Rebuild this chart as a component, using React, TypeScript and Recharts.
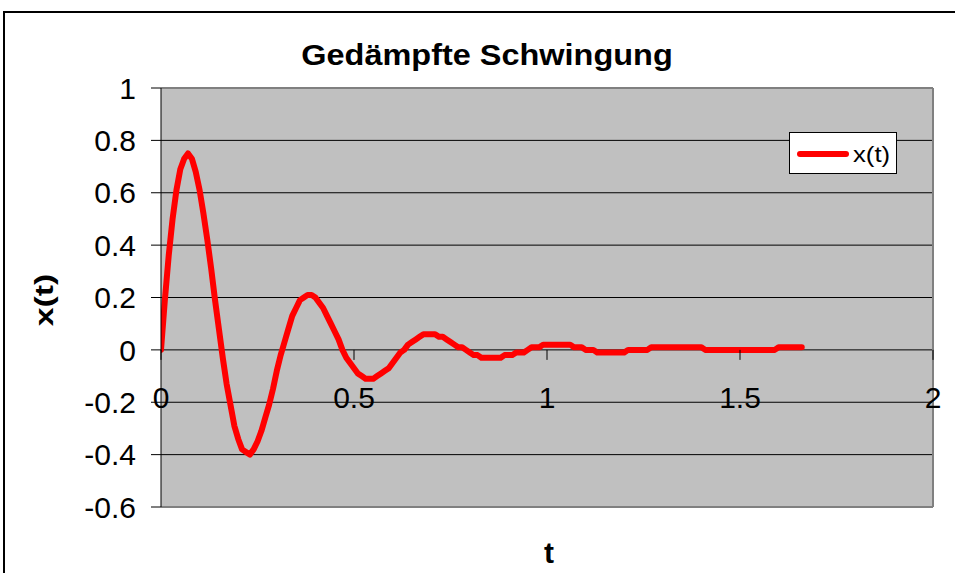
import React from 'react';
import {
  LineChart,
  Line,
  XAxis,
  YAxis,
  CartesianGrid,
  ReferenceLine,
  ReferenceDot,
  Legend,
} from 'recharts';

const chartTitle = 'Gedämpfte Schwingung';
const xAxisTitle = 't';
const yAxisTitle = 'x(t)';
const seriesName = 'x(t)';

const tValues = [
  0, 0.01, 0.02, 0.03, 0.04, 0.05, 0.06, 0.07, 0.08, 0.09,
  0.1, 0.11, 0.12, 0.13, 0.14, 0.15, 0.16, 0.17, 0.18, 0.19,
  0.2, 0.21, 0.22, 0.23, 0.24, 0.25, 0.26, 0.27, 0.28, 0.29,
  0.3, 0.31, 0.32, 0.33, 0.34, 0.35, 0.36, 0.37, 0.38, 0.39,
  0.4, 0.41, 0.42, 0.43, 0.44, 0.45, 0.46, 0.47, 0.48, 0.49,
  0.5, 0.51, 0.52, 0.53, 0.54, 0.55, 0.56, 0.57, 0.58, 0.59,
  0.6, 0.61, 0.62, 0.63, 0.64, 0.65, 0.66, 0.67, 0.68, 0.69,
  0.7, 0.71, 0.72, 0.73, 0.74, 0.75, 0.76, 0.77, 0.78, 0.79,
  0.8, 0.81, 0.82, 0.83, 0.84, 0.85, 0.86, 0.87, 0.88, 0.89,
  0.9, 0.91, 0.92, 0.93, 0.94, 0.95, 0.96, 0.97, 0.98, 0.99,
  1, 1.01, 1.02, 1.03, 1.04, 1.05, 1.06, 1.07, 1.08, 1.09,
  1.1, 1.11, 1.12, 1.13, 1.14, 1.15, 1.16, 1.17, 1.18, 1.19,
  1.2, 1.21, 1.22, 1.23, 1.24, 1.25, 1.26, 1.27, 1.28, 1.29,
  1.3, 1.31, 1.32, 1.33, 1.34, 1.35, 1.36, 1.37, 1.38, 1.39,
  1.4, 1.41, 1.42, 1.43, 1.44, 1.45, 1.46, 1.47, 1.48, 1.49,
  1.5, 1.51, 1.52, 1.53, 1.54, 1.55, 1.56, 1.57, 1.58, 1.59,
  1.6, 1.61, 1.62, 1.63, 1.64, 1.65, 1.66,
];

const xValues = [
  0, 0.19, 0.36, 0.5, 0.61, 0.69, 0.73, 0.75, 0.73, 0.68,
  0.61, 0.52, 0.42, 0.31, 0.19, 0.08, -0.03, -0.13, -0.21, -0.29,
  -0.34, -0.38, -0.39, -0.4, -0.38, -0.35, -0.31, -0.26, -0.21, -0.15,
  -0.08, -0.02, 0.03, 0.08, 0.13, 0.16, 0.19, 0.2, 0.21, 0.21,
  0.2, 0.18, 0.16, 0.13, 0.1, 0.07, 0.04, 0, -0.03, -0.05,
  -0.07, -0.09, -0.1, -0.11, -0.11, -0.11, -0.1, -0.09, -0.08, -0.07,
  -0.05, -0.03, -0.01, 0, 0.02, 0.03, 0.04, 0.05, 0.06, 0.06,
  0.06, 0.06, 0.05, 0.05, 0.04, 0.03, 0.02, 0.01, 0.01, 0,
  -0.01, -0.02, -0.02, -0.03, -0.03, -0.03, -0.03, -0.03, -0.03, -0.02,
  -0.02, -0.02, -0.01, -0.01, -0.01, 0, 0.01, 0.01, 0.01, 0.02,
  0.02, 0.02, 0.02, 0.02, 0.02, 0.02, 0.02, 0.01, 0.01, 0.01,
  0, 0, 0, -0.01, -0.01, -0.01, -0.01, -0.01, -0.01, -0.01,
  -0.01, 0, 0, 0, 0, 0, 0, 0.01, 0.01, 0.01,
  0.01, 0.01, 0.01, 0.01, 0.01, 0.01, 0.01, 0.01, 0.01, 0.01,
  0.01, 0, 0, 0, 0, 0, 0, 0, 0, 0,
  0, 0, 0, 0, 0, 0, 0, 0, 0, 0,
  0.01, 0.01, 0.01, 0.01, 0.01, 0.01, 0.01,
];

const xTicks = [0, 0.5, 1, 1.5, 2];
const yTicks = [-0.6, -0.4, -0.2, 0, 0.2, 0.4, 0.6, 0.8, 1];

const data = tValues.map((t, i) => ({ t, x: xValues[i] }));

const FONT = '"Liberation Sans", Arial, sans-serif';

function XTick(props: any) {
  const { cx, cy, label } = props;
  return (
    <g>
      <line x1={cx} y1={cy} x2={cx} y2={cy + 10} stroke="#000" strokeWidth={1} />
      <text x={cx} y={cy + 58} textAnchor="middle" fontSize={30} fontFamily={FONT} fill="#000">
        {label}
      </text>
    </g>
  );
}

function LegendBox(props: any) {
  const item = props.payload && props.payload[0];
  const color = item && item.color ? item.color : '#FF0000';
  const label = item && item.value ? item.value : seriesName;
  return (
    <svg width={108} height={42} style={{ display: 'block' }}>
      <rect x={0.5} y={0.5} width={107} height={41} fill="#fff" stroke="#000" strokeWidth={1} />
      <line x1={11} y1={22} x2={57} y2={22} stroke={color} strokeWidth={6} strokeLinecap="round" />
      <text transform="translate(64,30) scale(1.12,1)" x={0} y={0} fontSize={23} fontFamily={FONT} fill="#000">
        {label}
      </text>
    </svg>
  );
}

export default function App() {
  return (
    <div
      style={{
        position: 'absolute',
        left: 0,
        top: 0,
        width: 955,
        height: 573,
        overflow: 'hidden',
        background: '#fff',
      }}
    >
      <div
        style={{
          position: 'absolute',
          left: 3,
          top: 11,
          width: 1000,
          height: 700,
          border: '2px solid #000',
        }}
      />
      <div style={{ position: 'absolute', left: 0, top: 0 }}>
        <LineChart
          width={955}
          height={573}
          data={data}
          margin={{ top: 88, right: 22, bottom: 66, left: 81 }}
        >
          <CartesianGrid
            vertical={false}
            stroke="#000"
            strokeWidth={1}
            fill="#C0C0C0"
            fillOpacity={1}
          />
          <XAxis dataKey="t" type="number" domain={[0, 2]} ticks={xTicks} hide allowDataOverflow />
          <YAxis
            type="number"
            domain={[-0.6, 1]}
            ticks={yTicks}
            interval={0}
            width={80}
            tickSize={10}
            tickMargin={15}
            allowDataOverflow
            axisLine={{ stroke: '#000', strokeWidth: 1 }}
            tickLine={{ stroke: '#000', strokeWidth: 1 }}
            tick={{ fill: '#000', fontSize: 30, fontFamily: FONT }}
          />
          <ReferenceLine y={1} stroke="#808080" strokeWidth={2} />
          <ReferenceLine y={-0.6} stroke="#808080" strokeWidth={2} />
          <ReferenceLine x={2} stroke="#808080" strokeWidth={2} />
          {xTicks.map((t) => (
            <ReferenceDot
              key={'xt' + t}
              x={t}
              y={0}
              r={1}
              fill="none"
              stroke="none"
              shape={(p: any) => <XTick {...p} label={String(t)} />}
            />
          ))}
          <Line
            type="linear"
            dataKey="x"
            name={seriesName}
            stroke="#FF0000"
            strokeWidth={6}
            dot={false}
            activeDot={false}
            strokeLinejoin="round"
            strokeLinecap="round"
            isAnimationActive={false}
          />
          <Legend
            layout="vertical"
            align="center"
            verticalAlign="middle"
            wrapperStyle={{ position: 'absolute', left: 789, top: 132, width: 108, height: 42 }}
            content={LegendBox}
          />
        </LineChart>
      </div>
      <svg
        width={955}
        height={573}
        style={{ position: 'absolute', left: 0, top: 0, pointerEvents: 'none' }}
      >
        <text
          transform="translate(487,65) scale(1.12,1)"
          x={0}
          y={0}
          textAnchor="middle"
          fontSize={29}
          fontWeight="bold"
          fontFamily={FONT}
          fill="#000"
        >
          {chartTitle}
        </text>
        <text
          transform="translate(53,300) rotate(-90) scale(1.3,1)"
          x={0}
          y={0}
          textAnchor="middle"
          fontSize={26}
          fontWeight="bold"
          fontFamily={FONT}
          fill="#000"
        >
          {yAxisTitle}
        </text>
        <text
          x={549}
          y={563}
          textAnchor="middle"
          fontSize={30}
          fontWeight="bold"
          fontFamily={FONT}
          fill="#000"
        >
          {xAxisTitle}
        </text>
      </svg>
    </div>
  );
}
